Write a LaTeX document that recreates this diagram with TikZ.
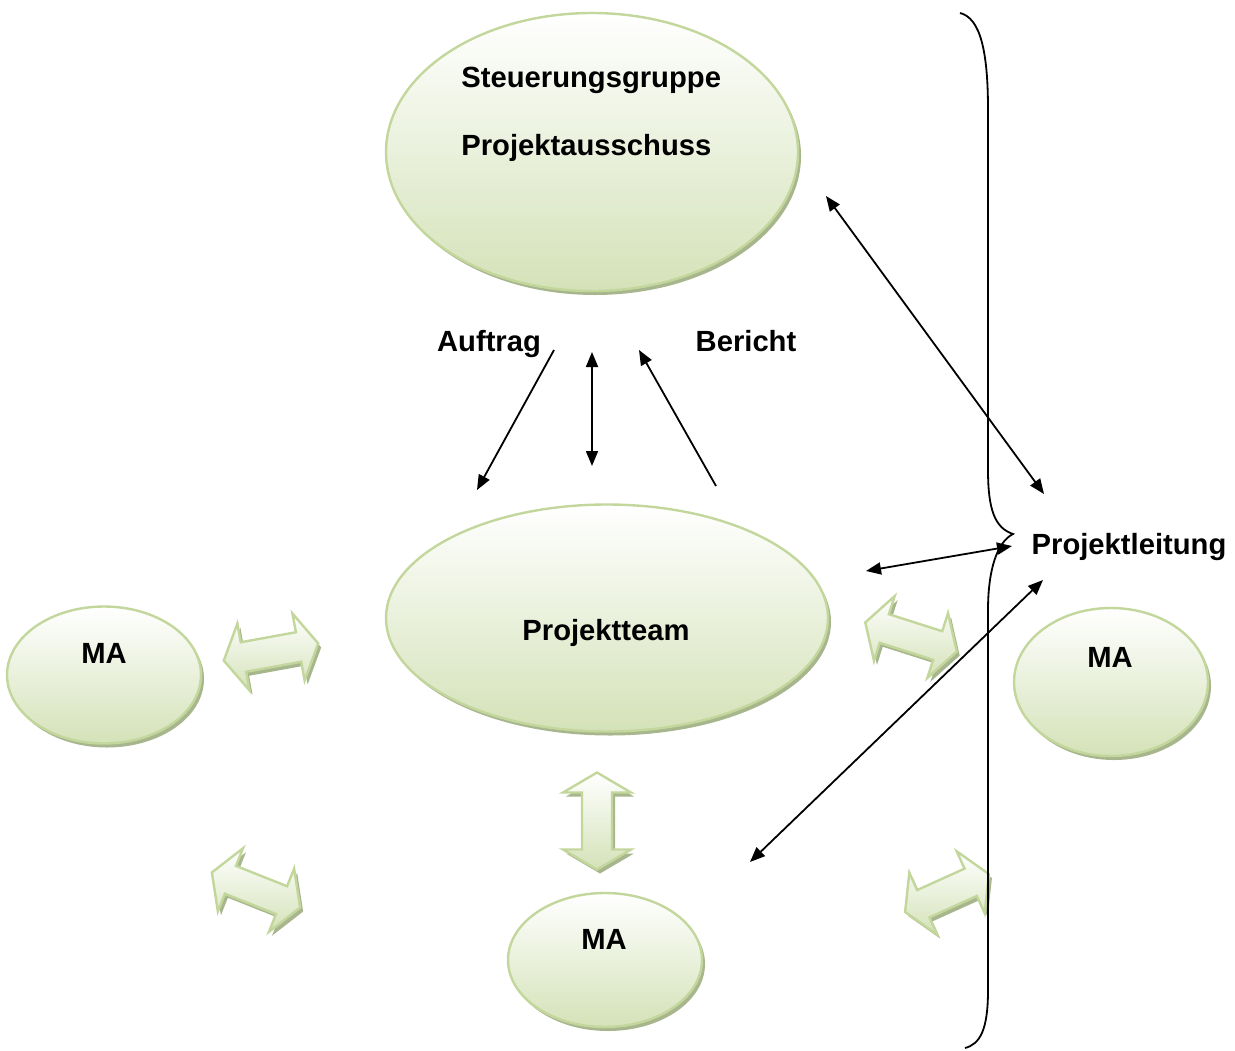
\documentclass[tikz,border=0pt]{standalone}
\usepackage{fontspec}
\setmainfont{Liberation Sans}
\usepackage{tikz}
\usetikzlibrary{positioning,shapes.geometric,shadows,arrows.meta}

\definecolor{bubbleline}{RGB}{195,214,155}
\definecolor{bubblefill}{RGB}{212,226,184}
\definecolor{bubbleshade}{RGB}{168,182,142}

\tikzset{
  bubble/.style={ellipse, draw=bubbleline, line width=1.2pt, top color=white, bottom color=bubblefill, inner sep=0pt,
    drop shadow={shadow xshift=1.5pt, shadow yshift=-2pt, fill=bubbleshade, opacity=1}},
  lbl/.style={font=\bfseries\fontsize{14.6}{17}\selectfont, inner sep=0pt, anchor=base},
  conn/.style={line width=0.9pt, -{Triangle[length=7.5pt,width=6pt]}},
  conntwo/.style={line width=0.9pt, {Triangle[length=7.5pt,width=6pt]}-{Triangle[length=7.5pt,width=6pt]}},
  blkbody/.style={draw=bubbleline, line width=1.2pt, line join=miter, top color=white, bottom color=bubblefill},
}

% block double arrow: centre, angle, length
\newcommand{\arrowpath}{(-\halflen,0) -- (-\headbase,-34) -- (-\headbase,-15) -- (\headbase,-15) -- (\headbase,-34) -- (\halflen,0) -- (\headbase,34) -- (\headbase,15) -- (-\headbase,15) -- (-\headbase,34) -- cycle}
\newcommand{\dblarrow}[3]{%
  \pgfmathsetmacro{\halflen}{#3/2}
  \pgfmathsetmacro{\headbase}{#3/2-20}
  \begin{scope}[shift={#1}]
    \fill[bubbleshade,shift={(3,4)},rotate=#2] \arrowpath;
    \draw[blkbody,rotate=#2] \arrowpath;
  \end{scope}}

\begin{document}
\begin{tikzpicture}[x=0.5pt,y=0.5pt,yscale=-1,xscale=1]
\useasboundingbox (0,0) rectangle (1235,1050);

%Shape: Ellipse
\node[bubble, minimum width=206pt, minimum height=139pt] (sg) at (592,152) {};
\node[bubble, minimum width=221pt, minimum height=113.5pt] (team) at (607,618) {};
\node[bubble, minimum width=97pt, minimum height=68.5pt] (maleft) at (104,675) {};
\node[bubble, minimum width=97pt, minimum height=74pt] (maright) at (1111,682) {};
\node[bubble, minimum width=97pt, minimum height=67pt] (mabottom) at (605,960) {};

%Shape: Double Arrows
\dblarrow{(271,652)}{-10.3}{96}
\dblarrow{(911,637)}{17.7}{96}
\dblarrow{(597,821)}{90}{97}
\dblarrow{(256,890)}{21.7}{95}
\dblarrow{(947,893)}{-24.3}{92}

% Text Node
\node[lbl, anchor=base west] (sgtop) at (461,87) {Steuerungsgruppe};
% Text Node
\node[lbl, anchor=base west] (sgbot) at (461,155) {Projektausschuss};
% Text Node
\node[lbl] (teamtxt) at (606,640) {Projektteam};
% Text Node
\node[lbl] (maltxt) at (104,663) {MA};
% Text Node
\node[lbl] (marttxt) at (1110,667) {MA};
% Text Node
\node[lbl] (mabtxt) at (604,949) {MA};
% Text Node
\node[lbl] (auftrag) at (489,351) {Auftrag};
% Text Node
\node[lbl] (bericht) at (746,351) {Bericht};
% Text Node
\node[lbl] (pl) at (1129,554) {Projektleitung};

% end points
\coordinate (a1) at (554,350);
\coordinate (a2) at (477,490);
\coordinate (m1) at (592,352);
\coordinate (m2) at (592,466);
\coordinate (b1) at (716,486);
\coordinate (b2) at (639,350);
\coordinate (s1) at (826,196);
\coordinate (s2) at (1044,494);
\coordinate (t1) at (866,571);
\coordinate (t2) at (1012,546);
\coordinate (u1) at (1043,580);
\coordinate (u2) at (750,862);

%Straight Lines
\draw[conn] (a1) -- (a2);
\draw[conntwo] (m1) -- (m2);
\draw[conn] (b1) -- (b2);
\draw[conntwo] (s1) -- (s2);
\draw[conntwo] (t1) -- (t2);
\draw[conntwo] (u1) -- (u2);

%Shape: Brace
\draw[line width=0.9pt] (960,13) .. controls (980,18) and (988,50) .. (988,110) -- (988,470) .. controls (988,510) and (995,528) .. (1013,534) .. controls (997,542) and (988,570) .. (988,610) -- (988,990) .. controls (988,1030) and (980,1044) .. (965,1048);

\end{tikzpicture}
\end{document}
